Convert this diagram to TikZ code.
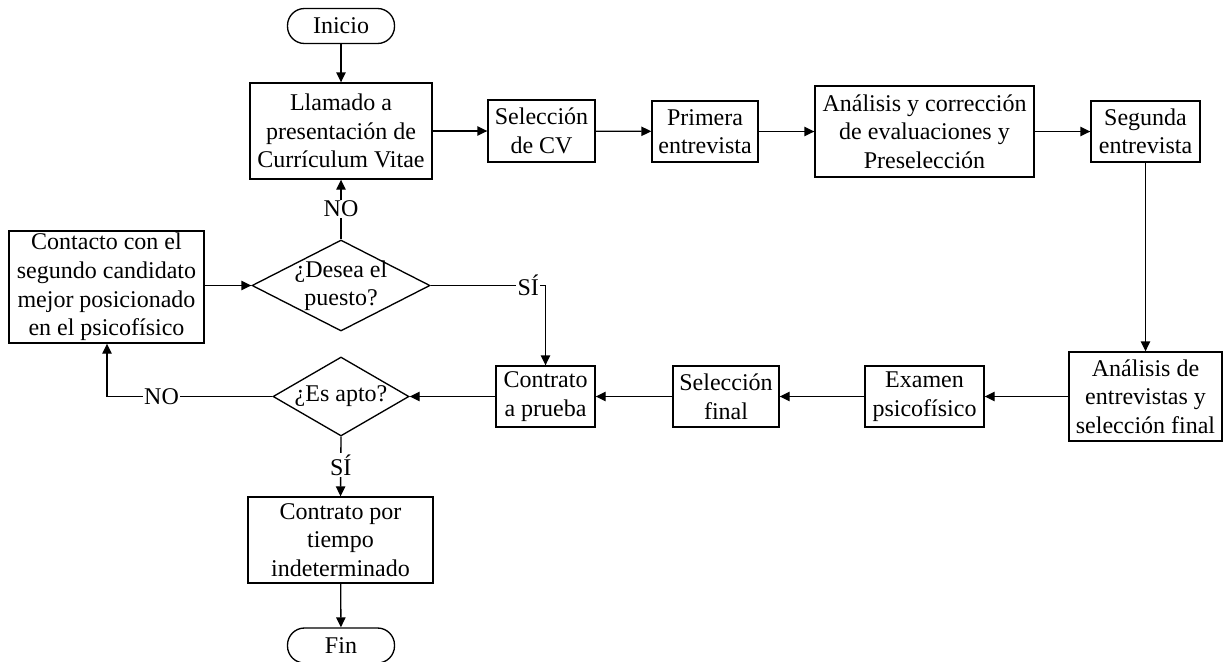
\documentclass[tikz,border=0pt]{standalone}
\usepackage{fontspec}
\setmainfont{Liberation Serif}
\usetikzlibrary{shapes.geometric,arrows.meta}
\newdimen\pu \pu=0.75pt
\tikzset{
  txt/.style={font=\fontsize{18}{21.4}\selectfont},
  flow/.style={line width=1pt, -{Triangle[length=7.5pt,width=7pt]}},
  stepbox/.style={draw, line width=1pt, align=center, inner sep=1pt, txt},
  terminal/.style={stepbox, rounded corners=17\pu, minimum width=107\pu, minimum height=35\pu},
  decision/.style={draw, line width=1pt, diamond, inner sep=0pt},
  tag/.style={fill=white, inner sep=1pt, txt},
}
\begin{document}
\begin{tikzpicture}[x=\pu, y=-\pu]
\useasboundingbox (0,0) rectangle (1223,661);

% upper row
\node[terminal] (inicio) at (341,26) {Inicio};
\node[stepbox, minimum width=182\pu, minimum height=96\pu] (llamado) at (341,131)
  {Llamado a\\presentación de\\Currículum Vitae};
\node[stepbox, minimum width=107\pu, minimum height=62\pu] (selcv) at (541.5,131)
  {Selección\\de CV};
\node[stepbox, minimum width=106\pu, minimum height=61\pu] (primera) at (705,131.5)
  {Primera\\entrevista};
\node[stepbox, minimum width=219\pu, minimum height=91\pu] (evalua) at (924.5,131.5)
  {Análisis y corrección\\de evaluaciones y\\Preselección};
\node[stepbox, minimum width=109\pu, minimum height=61\pu] (segunda) at (1145.5,131.5)
  {Segunda\\entrevista};

% lower row
\node[stepbox, minimum width=153\pu, minimum height=89\pu] (entrev) at (1145.5,396.5)
  {Análisis de\\entrevistas y\\selección final};
\node[stepbox, minimum width=119\pu, minimum height=61\pu] (examen) at (924.5,396.5)
  {Examen\\psicofísico};
\node[stepbox, minimum width=106\pu, minimum height=61\pu] (selfinal) at (726,396.5)
  {Selección\\final};
\node[stepbox, minimum width=99\pu, minimum height=61\pu] (prueba) at (545.5,396.5)
  {Contrato\\a prueba};

% decisions
\node[decision, minimum width=178\pu, minimum height=91\pu,
  label={[txt, align=center]center:{¿Desea el\\puesto?}}] (desea) at (341,285.5) {};
\node[decision, minimum width=136\pu, minimum height=79\pu,
  label={[txt]center:{¿Es apto?}}] (apto) at (341,396.5) {};

\node[stepbox, minimum width=195\pu, minimum height=112\pu] (contacto) at (106.5,287)
  {Contacto con el\\segundo candidato\\mejor posicionado\\en el psicofísico};
\node[stepbox, minimum width=185\pu, minimum height=86\pu] (indet) at (340.5,540)
  {Contrato por\\tiempo\\indeterminado};
\node[terminal] (fin) at (341,645.5) {Fin};

\coordinate (sicorner) at (545.5,285.5);
\coordinate (nocorner) at (107,396.5);

% main sequence
\draw[flow] (inicio) -- (llamado);
\draw[flow] (llamado) -- (selcv);
\draw[flow] (selcv) -- (primera);
\draw[flow] (primera) -- (evalua);
\draw[flow] (evalua) -- (segunda);
\draw[flow] (segunda) -- (entrev);
\draw[flow] (entrev) -- (examen);
\draw[flow] (examen) -- (selfinal);
\draw[flow] (selfinal) -- (prueba);
\draw[flow] (prueba) -- (apto);

% decision branches
\draw[flow] (apto.west) -- node[tag, pos=0.67] (noapto) {NO} (nocorner) -- (contacto.south -| nocorner);
\draw[flow] (apto.south) -- node[tag, pos=0.475] (siapto) {SÍ} (indet.north);
\draw[flow] (desea.west -| contacto.east) -- (desea.west);
\draw[flow] (desea.north) -- node[tag, pos=0.51] (nodesea) {NO} (llamado.south);
\draw[flow] (desea.east) -- node[tag, pos=0.85] (sidesea) {SÍ} (sicorner) -- (prueba.north);
\draw[flow] (indet) -- (fin);
\end{tikzpicture}
\end{document}
